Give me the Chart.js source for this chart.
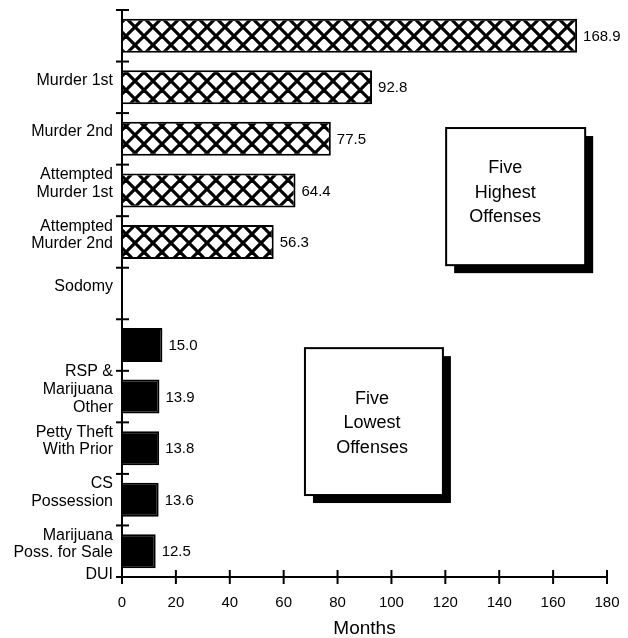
<!DOCTYPE html>
<html>
<head>
<meta charset="utf-8">
<script src="https://cdn.jsdelivr.net/npm/chart.js@4.4.1/dist/chart.umd.min.js"></script>
<style>
  html, body { margin: 0; padding: 0; background: #fff; }
  canvas { display: block; }
</style>
</head>
<body>
<canvas id="ofensas" width="628" height="638"></canvas>
<script>
// categorias (a primeira e a setima ficam sem rotulo, como no original)
var ofensas = [
  '',
  'Murder 1st',
  'Murder 2nd',
  ['Attempted', 'Murder 1st'],
  ['Attempted', 'Murder 2nd'],
  'Sodomy',
  '',
  ['RSP &', 'Marijuana', 'Other'],
  ['Petty Theft', 'With Prior'],
  ['CS', 'Possession'],
  ['Marijuana', 'Poss. for Sale']
]
var meses = [168.9, 92.8, 77.5, 64.4, 56.3, null, 15.0, 13.9, 13.8, 13.6, 12.5]
var tipoBarra = ['alta', 'alta', 'alta', 'alta', 'alta', null, 'baixa', 'baixa', 'baixa', 'baixa', 'baixa']
var ticksMeses = [0, 20, 40, 60, 80, 100, 120, 140, 160, 180]
var rotuloExtra = 'DUI'
var tituloEixo = 'Months'

var fonte = 'Liberation Sans, Arial, Helvetica, sans-serif'
const canvas = document.getElementById('ofensas')
const ctx = canvas.getContext('2d')

function criarHachura() {
  var s = 18
  var c = document.createElement('canvas')
  c.width = s
  c.height = s
  var g = c.getContext('2d')
  g.fillStyle = '#fff'
  g.fillRect(0, 0, s, s)
  g.strokeStyle = '#000'
  g.lineWidth = 3.2
  for (var k = -1; k <= 1; k++) {
    g.beginPath(); g.moveTo(k * s, 0); g.lineTo(k * s + s, s); g.stroke()
    g.beginPath(); g.moveTo(k * s + s, 0); g.lineTo(k * s, s); g.stroke()
  }
  return ctx.createPattern(c, 'repeat')
}
var hachura = criarHachura()

var cores = tipoBarra.map(function (t) { return t == 'alta' ? hachura : '#000' })

// caixas de texto, posicionadas em meses (x) e indice de categoria (y)
var caixas = [
  { x0: 120.3, x1: 171.9, y0: 1.79, y1: 4.45, tx: 142.2, ty: 3.05, linhas: ['Five', 'Highest', 'Offenses'] },
  { x0: 67.9, x1: 119.1, y0: 6.06, y1: 8.91, tx: 92.8, ty: 7.52, linhas: ['Five', 'Lowest', 'Offenses'] }
]

const fundoBranco = {
  id: 'fundoBranco',
  beforeDraw(chart) {
    var c = chart.ctx
    c.save()
    c.fillStyle = '#fff'
    c.fillRect(0, 0, chart.width, chart.height)
    c.restore()
  }
}

const extras = {
  id: 'extras',
  afterDatasetsDraw(chart) {
    var c = chart.ctx
    var xs = chart.scales.x
    var ys = chart.scales.y
    var area = chart.chartArea
    c.save()

    // valores ao lado das barras
    var meta = chart.getDatasetMeta(0)
    c.fillStyle = '#000'
    c.font = '15px ' + fonte
    c.textAlign = 'left'
    c.textBaseline = 'middle'
    for (var i = 0; i < meses.length; i++) {
      if (meses[i] == null) continue
      var bar = meta.data[i]
      c.fillText(meses[i].toFixed(1), bar.x + 6, bar.y + 1)
    }

    // eixos com marcas cruzadas
    c.strokeStyle = '#000'
    c.lineWidth = 2
    c.beginPath()
    c.moveTo(area.left, area.top)
    c.lineTo(area.left, area.bottom)
    c.lineTo(area.right, area.bottom)
    c.stroke()
    for (var j = 0; j <= ofensas.length; j++) {
      var y = ys.getPixelForValue(j - 0.5)
      c.beginPath()
      c.moveTo(area.left - 6, y)
      c.lineTo(area.left + 7, y)
      c.stroke()
    }
    for (var k = 0; k < ticksMeses.length; k++) {
      var x = xs.getPixelForValue(ticksMeses[k])
      c.beginPath()
      c.moveTo(x, area.bottom - 7)
      c.lineTo(x, area.bottom + 7)
      c.stroke()
    }

    c.font = '16px ' + fonte
    c.textAlign = 'right'
    c.fillText(rotuloExtra, area.left - 9, area.bottom - 2)

    // caixas com sombra
    caixas.forEach(function (cx) {
      var l = xs.getPixelForValue(cx.x0)
      var r = xs.getPixelForValue(cx.x1)
      var t = ys.getPixelForValue(cx.y0)
      var b = ys.getPixelForValue(cx.y1)
      c.fillStyle = '#000'
      c.fillRect(l + 8, t + 8, r - l, b - t)
      c.fillStyle = '#fff'
      c.fillRect(l, t, r - l, b - t)
      c.lineWidth = 2
      c.strokeRect(l, t, r - l, b - t)
      c.fillStyle = '#000'
      c.font = '18px ' + fonte
      c.textAlign = 'center'
      c.textBaseline = 'middle'
      var tx = xs.getPixelForValue(cx.tx)
      var ty = ys.getPixelForValue(cx.ty)
      for (var n = 0; n < cx.linhas.length; n++) {
        c.fillText(cx.linhas[n], tx, ty + (n - 1) * 24.5)
      }
    })
    c.restore()
  }
}

var chartOfensas = new Chart(canvas, {
  type: 'bar',
  data: {
    labels: ofensas,
    datasets: [{
      data: meses,
      backgroundColor: cores,
      borderColor: '#000',
      borderWidth: 2,
      categoryPercentage: 1,
      barPercentage: 0.66
    }]
  },
  options: {
    indexAxis: 'y',
    responsive: false,
    animation: false,
    layout: { padding: { top: 10, right: 21, bottom: 0, left: 0 } },
    plugins: {
      legend: { display: false },
      tooltip: { enabled: false }
    },
    scales: {
      x: {
        min: 0,
        max: 180,
        afterBuildTicks: function (scale) {
          scale.ticks = ticksMeses.map(function (v) { return { value: v } })
        },
        afterFit: function (scale) {
          scale.height = 61
          scale.paddingLeft = 0
          scale.paddingRight = 0
        },
        grid: { display: false, drawTicks: false },
        border: { display: false },
        ticks: {
          padding: 17,
          color: '#000',
          font: { family: fonte, size: 15 },
          maxRotation: 0
        },
        title: {
          display: true,
          text: tituloEixo,
          color: '#000',
          font: { family: fonte, size: 19, lineHeight: 1 },
          padding: { top: 0, bottom: 0 }
        }
      },
      y: {
        afterFit: function (scale) {
          scale.width = 122
          scale.paddingTop = 0
          scale.paddingBottom = 0
        },
        grid: { display: false, drawTicks: false },
        border: { display: false },
        ticks: {
          padding: 9,
          labelOffset: -7,
          color: '#000',
          autoSkip: false,
          font: { family: fonte, size: 16, lineHeight: 1.1 }
        }
      }
    }
  },
  plugins: [fundoBranco, extras]
})
</script>
</body>
</html>
